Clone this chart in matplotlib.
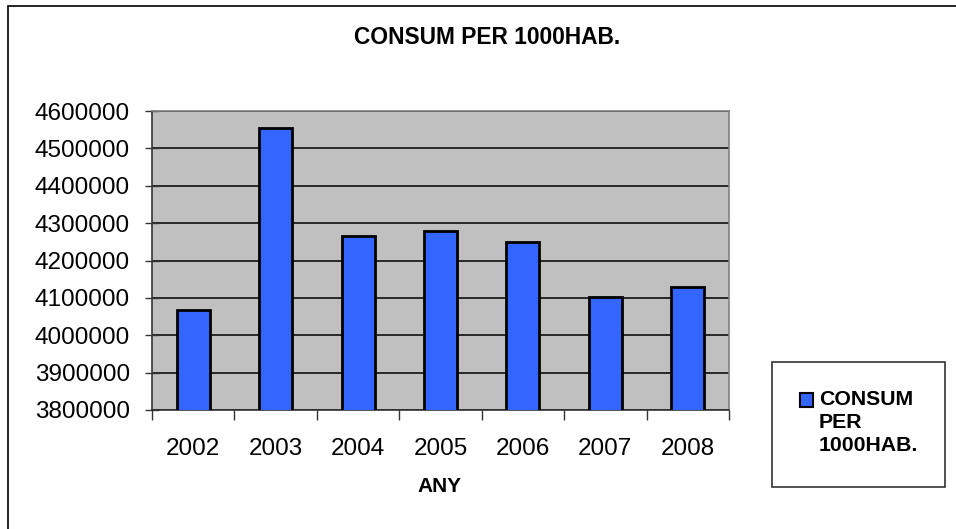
import matplotlib
matplotlib.use("Agg")
import matplotlib.pyplot as plt
from matplotlib.patches import Rectangle
import numpy as np

plt.rcParams['font.family'] = ['Liberation Sans', 'DejaVu Sans']

years = ['2002', '2003', '2004', '2005', '2006', '2007', '2008']
consum = [4068000, 4555000, 4265000, 4278000, 4250000, 4103000, 4130000]
yticks = [3800000, 3900000, 4000000, 4100000, 4200000, 4300000, 4400000, 4500000, 4600000]
series_label = 'CONSUM PER 1000HAB.'
title = 'CONSUM PER 1000HAB.'
xlabel = 'ANY'

W, H = 956, 529
fig = plt.figure(figsize=(W / 100, H / 100), dpi=100)
fig.patch.set_facecolor('white')

# outer chart frame (partly cropped on right/bottom)
fig.patches.append(Rectangle((8 / W, -0.1), 2.0, 1 - 6 / H + 0.1, transform=fig.transFigure,
                             fill=False, edgecolor='black', linewidth=1.2))

ax = fig.add_axes([152 / W, (H - 410) / H, 577 / W, 299 / H])
ax.set_facecolor('#C0C0C0')

x = np.arange(len(years))
ax.bar(x, consum, width=0.4, color='#3366FF', edgecolor='black', linewidth=2, zorder=3)

ax.set_xlim(-0.5, len(years) - 0.5)
ax.set_ylim(yticks[0], yticks[-1])
ax.set_yticks(yticks)
ax.set_yticklabels([str(v) for v in yticks], fontsize=17.5)
ax.set_xticks(x)
ax.set_xticklabels(years, fontsize=17.5)
ax.set_xticks(np.arange(-0.5, len(years), 1.0), minor=True)
ax.tick_params(axis='x', which='major', length=0, pad=20)
ax.tick_params(axis='x', which='minor', direction='out', length=7, width=1, color='#333333')
ax.tick_params(axis='y', direction='inout', length=10, width=1, color='#333333', pad=11)

ax.yaxis.grid(True, color='black', linewidth=1.1, zorder=1)
ax.set_axisbelow(True)

for s in ['top', 'right']:
    ax.spines[s].set_color('#808080')
    ax.spines[s].set_linewidth(1.2)
for s in ['left', 'bottom']:
    ax.spines[s].set_color('#333333')
    ax.spines[s].set_linewidth(1.2)

fig.text(487 / W, 1 - 38 / H, title, ha='center', va='center', fontsize=16.4, fontweight='bold')
fig.text(440 / W, 1 - 487 / H, xlabel, ha='center', va='center', fontsize=15, fontweight='bold')

# legend box
fig.patches.append(Rectangle((772 / W, 1 - 487 / H), (945 - 772) / W, (487 - 362) / H,
                             transform=fig.transFigure, facecolor='white',
                             edgecolor='#333333', linewidth=1.2))
fig.patches.append(Rectangle((800 / W, 1 - 407 / H), 13 / W, 14 / H,
                             transform=fig.transFigure, facecolor='#3366FF',
                             edgecolor='black', linewidth=1.5))
fig.text(819 / W, 1 - 390 / H, 'CONSUM\nPER\n1000HAB.', ha='left', va='top',
         fontsize=15.3, fontweight='bold', linespacing=1.28)

fig.savefig('out.png', dpi=100)
